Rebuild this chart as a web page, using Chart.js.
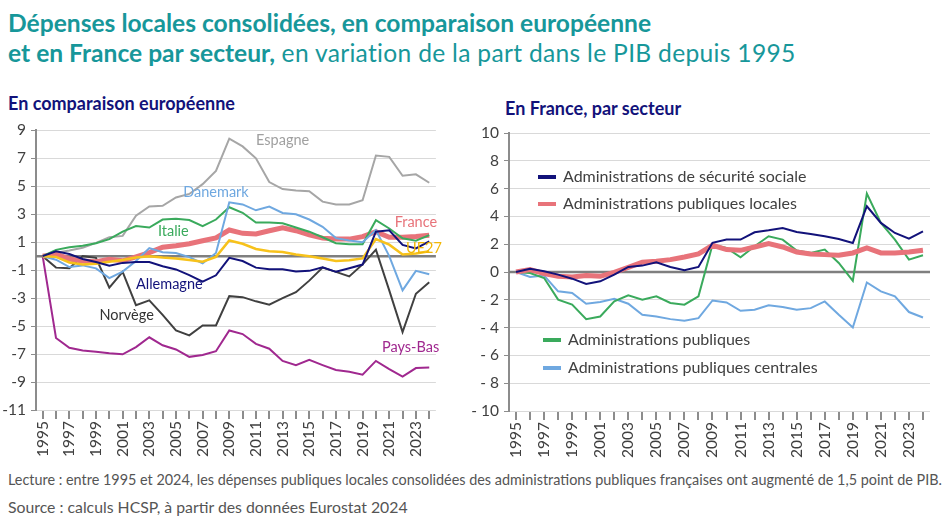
<!DOCTYPE html>
<html lang="fr">
<head>
<meta charset="utf-8">
<script src="https://cdn.jsdelivr.net/npm/chart.js@4.4.1/dist/chart.umd.min.js"></script>
<style>
  body { margin: 0; width: 947px; height: 529px; background: #fff; font-family: Lato, sans-serif; position: relative; overflow: hidden; }
  .titre { position: absolute; left: 8px; color: #17979a; font-size: 24.6px; white-space: nowrap; }
  .titre b { font-weight: bold; }
  .titre span { letter-spacing: 0.3px; }
  .sous { position: absolute; color: #12127a; font-weight: bold; font-size: 18px; white-space: nowrap; }
  .note { position: absolute; left: 8px; color: #555; font-size: 14.4px; white-space: nowrap; }
  canvas { position: absolute; }
</style>
</head>
<body>
<div class="titre" style="top:8px"><b>Dépenses locales consolidées, en comparaison européenne</b></div>
<div class="titre" style="top:38px"><b>et en France par secteur,</b><span> en variation de la part dans le PIB depuis 1995</span></div>
<div class="sous" style="left:8px; top:92px">En comparaison européenne</div>
<div class="sous" style="left:505px; top:97px">En France, par secteur</div>
<canvas id="gauche" width="450" height="352" style="left:0; top:116px"></canvas>
<canvas id="droite" width="477" height="352" style="left:470px; top:116px"></canvas>
<div class="note" style="top:471px">Lecture : entre 1995 et 2024, les dépenses publiques locales consolidées des administrations publiques françaises ont augmenté de 1,5 point de PIB.</div>
<div class="note" style="top:497px; font-size:15.8px">Source : calculs HCSP, à partir des données Eurostat 2024</div>
<script>
// années
var annees = ['1995','1996','1997','1998','1999','2000','2001','2002','2003','2004','2005','2006','2007','2008','2009',
  '2010','2011','2012','2013','2014','2015','2016','2017','2018','2019','2020','2021','2022','2023','2024'];

// comparaison européenne (points de PIB)
var espagne   = [0, 0.25, 0.4, 0.6, 0.95, 1.35, 1.45, 2.9, 3.55, 3.6, 4.2, 4.45, 5.15, 6.1, 8.4, 7.85, 7.0, 5.3, 4.8, 4.7, 4.65, 3.9, 3.7, 3.7, 4.0, 7.2, 7.1, 5.75, 5.85, 5.25];
var italie    = [0, 0.45, 0.63, 0.75, 0.93, 1.22, 1.75, 2.15, 2.05, 2.62, 2.67, 2.58, 2.15, 2.62, 3.5, 3.1, 2.4, 2.4, 2.35, 2.05, 1.75, 1.35, 0.93, 0.86, 0.86, 2.57, 1.98, 1.28, 1.1, 1.5];
var france    = [0, 0.15, -0.2, -0.35, -0.4, -0.22, -0.33, -0.05, 0.25, 0.64, 0.75, 0.89, 1.1, 1.3, 1.87, 1.63, 1.59, 1.82, 2.03, 1.82, 1.52, 1.29, 1.22, 1.22, 1.4, 1.75, 1.35, 1.35, 1.4, 1.5];
var ue27      = [0, -0.05, -0.45, -0.6, -0.55, -0.4, -0.28, -0.1, 0.0, -0.1, -0.16, -0.28, -0.4, -0.05, 1.12, 0.89, 0.51, 0.35, 0.3, 0.12, 0.0, -0.16, -0.35, -0.3, -0.16, 1.22, 0.82, 0.12, 0.19, 0.35];
var allemagne = [0, 0.35, 0.15, -0.2, -0.42, -0.68, -0.48, -0.42, -0.42, -0.72, -0.95, -1.35, -1.82, -1.37, -0.12, -0.35, -0.82, -0.94, -0.94, -1.1, -1.05, -0.8, -1.12, -0.87, -0.6, 1.75, 1.85, 0.8, 0.55, 1.05];
var danemark  = [0, -0.25, -0.78, -0.66, -0.87, -1.57, -1.1, -0.35, 0.58, 0.28, 0.23, -0.07, -0.52, 0.23, 3.85, 3.7, 3.28, 3.55, 3.09, 3.0, 2.62, 2.1, 1.29, 1.12, 1.0, 1.87, 0.0, -2.45, -1.05, -1.29];
var norvege   = [0, -0.82, -0.87, 0.0, -0.12, -2.25, -1.12, -3.5, -3.16, -4.2, -5.31, -5.66, -4.96, -4.96, -2.86, -2.93, -3.23, -3.47, -3.0, -2.58, -1.75, -0.82, -1.12, -1.45, -0.59, 0.47, -2.45, -5.43, -2.69, -1.87];
var paysBas   = [0, -5.85, -6.55, -6.74, -6.83, -6.95, -7.02, -6.5, -5.8, -6.37, -6.67, -7.2, -7.07, -6.8, -5.31, -5.57, -6.27, -6.62, -7.49, -7.79, -7.42, -7.79, -8.14, -8.26, -8.47, -7.49, -8.07, -8.61, -8.0, -7.96];

// France par secteur
var secuSociale = [0, 0.24, 0.05, -0.19, -0.48, -0.86, -0.67, -0.19, 0.36, 0.46, 0.7, 0.36, 0.12, 0.36, 2.1, 2.33, 2.33, 2.86, 3.0, 3.17, 2.88, 2.74, 2.57, 2.38, 2.09, 4.73, 3.53, 2.81, 2.4, 2.93];
var apul        = [0, 0.17, -0.12, -0.31, -0.36, -0.26, -0.31, -0.02, 0.34, 0.7, 0.77, 0.89, 1.08, 1.3, 1.92, 1.61, 1.56, 1.8, 2.04, 1.8, 1.44, 1.3, 1.25, 1.2, 1.37, 1.73, 1.37, 1.37, 1.44, 1.56];
var apu         = [0, -0.07, -0.43, -1.99, -2.35, -3.39, -3.2, -2.11, -1.68, -1.99, -1.75, -2.23, -2.35, -1.75, 1.97, 1.73, 1.06, 1.85, 2.57, 2.33, 1.54, 1.37, 1.61, 0.65, -0.63, 5.64, 3.53, 2.33, 0.89, 1.2];
var apuc        = [0, -0.36, -0.26, -1.39, -1.51, -2.28, -2.16, -1.92, -2.28, -3.07, -3.2, -3.39, -3.51, -3.32, -2.05, -2.19, -2.79, -2.72, -2.4, -2.52, -2.72, -2.6, -2.12, -3.08, -3.99, -0.75, -1.39, -1.75, -2.88, -3.27];

var gris = '#404040';

function serie(label, data, couleur, epaisseur) {
  return { label: label, data: data, borderColor: couleur, backgroundColor: couleur,
           borderWidth: epaisseur || 2, pointRadius: 0, tension: 0, fill: false };
}

// ligne du zéro
var ligneZero = {
  id: 'ligneZero',
  beforeDatasetsDraw: function (chart) {
    var ctx = chart.ctx, y = chart.scales.y.getPixelForValue(0), a = chart.chartArea;
    ctx.save();
    ctx.strokeStyle = '#7f7f7f';
    ctx.lineWidth = 2.5;
    ctx.beginPath(); ctx.moveTo(a.left, y); ctx.lineTo(a.right, y); ctx.stroke();
    ctx.restore();
  }
};

// étiquettes des pays, placées en coordonnées (index année, valeur)
var etiquettes = [
  { t: 'Espagne',   x: 18,   y: 8.3,  c: '#a0a0a0' },
  { t: 'Danemark',  x: 13,   y: 4.55, c: '#6fa8e0' },
  { t: 'Italie',    x: 9.8,  y: 1.8,  c: '#3aaa5c' },
  { t: 'France',    x: 28,   y: 2.45, c: '#e8737a' },
  { t: 'UE27',      x: 28.6, y: 0.55, c: '#f2b705' },
  { t: 'Allemagne', x: 9.5,  y: -2.0, c: '#12127a' },
  { t: 'Norvège',   x: 6.3,  y: -4.2, c: '#333333' },
  { t: 'Pays-Bas',  x: 27.6, y: -6.5, c: '#a0288f' }
];
var etiquettesPlugin = {
  id: 'etiquettes',
  afterDatasetsDraw: function (chart) {
    var ctx = chart.ctx;
    ctx.save();
    ctx.font = '14.5px Lato';
    ctx.textAlign = 'center';
    ctx.textBaseline = 'middle';
    etiquettes.forEach(function (e) {
      ctx.fillStyle = e.c;
      ctx.fillText(e.t, chart.scales.x.getPixelForValue(e.x), chart.scales.y.getPixelForValue(e.y));
    });
    ctx.restore();
  }
};

// légende du graphique de droite, en deux blocs
var legendeDroite = {
  id: 'legendeDroite',
  afterDraw: function (chart) {
    var ctx = chart.ctx;
    var places = [[68, 61], [68, 88], [73, 224], [73, 252]];
    ctx.save();
    ctx.font = '16px Lato';
    ctx.textBaseline = 'middle';
    chart.data.datasets.forEach(function (d, i) {
      var p = places[i];
      ctx.strokeStyle = d.borderColor;
      ctx.lineWidth = 4;
      ctx.beginPath(); ctx.moveTo(p[0], p[1]); ctx.lineTo(p[0] + 18, p[1]); ctx.stroke();
      ctx.fillStyle = gris;
      ctx.fillText(d.label, p[0] + 25, p[1]);
    });
    ctx.restore();
  }
};

function options(min, max, largeurY, hautX, padDroite, padHaut, formatY) {
  return {
    responsive: false,
    animation: false,
    layout: { padding: { top: padHaut, right: padDroite, left: 0, bottom: 0 } },
    plugins: { legend: { display: false }, tooltip: { enabled: false } },
    scales: {
      x: {
        offset: true,
        grid: { drawOnChartArea: false, offset: false, tickLength: 9, tickColor: '#8c8c8c', lineWidth: 2 },
        border: { display: false },
        ticks: {
          autoSkip: false, maxRotation: 90, minRotation: 90, padding: 2,
          color: gris, font: { family: 'Lato', size: 15.5 },
          callback: function (v, i) { return i % 2 === 0 ? annees[i] : ''; }
        },
        afterFit: function (s) { s.height = hautX; }
      },
      y: {
        min: min, max: max,
        grid: { color: '#d9d9d9', tickLength: 5, tickColor: '#8c8c8c' },
        border: { display: true, color: '#8c8c8c', width: 2 },
        ticks: { stepSize: 2, padding: 5, color: gris, font: { family: 'Lato', size: 15.5 }, callback: formatY },
        afterFit: function (s) { s.width = largeurY; }
      }
    }
  };
}

new Chart(document.getElementById('gauche'), {
  type: 'line',
  data: {
    labels: annees,
    datasets: [
      serie('Allemagne', allemagne, '#12127a'),
      serie('UE27', ue27, '#f7c21b', 2.5),
      serie('Danemark', danemark, '#6fa8e0'),
      serie('Italie', italie, '#3aaa5c'),
      serie('France', france, '#e8737a', 5),
      serie('Norvège', norvege, '#404040'),
      serie('Espagne', espagne, '#a6a6a6'),
      serie('Pays-Bas', paysBas, '#a0288f')
    ]
  },
  options: options(-11, 9, 36, 58, 10, 9, function (v) { return v; }),
  plugins: [ligneZero, etiquettesPlugin]
});

new Chart(document.getElementById('droite'), {
  type: 'line',
  data: {
    labels: annees,
    datasets: [
      serie('Administrations de sécurité sociale', secuSociale, '#12127a'),
      serie('Administrations publiques locales', apul, '#e8737a', 5),
      serie('Administrations publiques', apu, '#3aaa5c'),
      serie('Administrations publiques centrales', apuc, '#6fa8e0')
    ]
  },
  options: options(-10, 10, 39, 57, 17, 17, function (v) { return v < 0 ? '- ' + Math.abs(v) : v; }),
  plugins: [ligneZero, legendeDroite]
});
</script>
</body>
</html>
